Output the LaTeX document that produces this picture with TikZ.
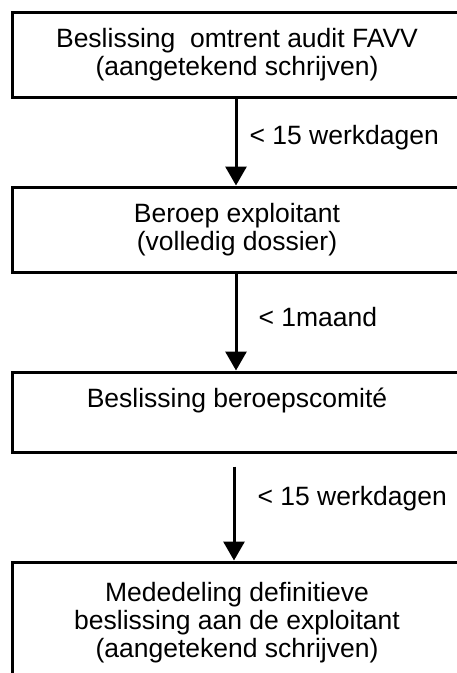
\documentclass[tikz,border=0pt]{standalone}
\usepackage{fontspec}
\setmainfont{Liberation Sans}
\usetikzlibrary{arrows.meta}
\begin{document}
\begin{tikzpicture}[x=1pt, y=1pt, font=\fontsize{26.5}{28}\selectfont,
  stap/.style={draw, line width=3pt, minimum width=450pt, align=center, inner sep=0pt},
  pijl/.style={line width=3pt, -{Triangle[length=19pt, width=21pt]}},
  termijn/.style={anchor=west, inner sep=0pt}]
  \useasboundingbox (0,0) rectangle (457,-673);
  \node[stap, minimum height=85pt] (beslissing) at (237,-54.5) {Beslissing\ \ omtrent audit FAVV\\(aangetekend schrijven)};
  \node[stap, minimum height=85pt] (beroep) at (237,-229.5) {Beroep exploitant\\(volledig dossier)};
  \node[stap, minimum height=80pt] (comite) at (237,-412) {Beslissing beroepscomité\\\mbox{}};
  \node[stap, minimum height=122pt] (mededeling) at (237,-623) {Mededeling definitieve\\beslissing aan de exploitant\\(aangetekend schrijven)};
  % pijlen met termijnen
  \draw[pijl] (beslissing.south -| 236,0) -- (beroep.north -| 236,0) node[termijn, pos=0.45, xshift=12pt] {< 15 werkdagen};
  \draw[pijl] (beroep.south -| 236,0) -- (comite.north -| 236,0) node[termijn, pos=0.45, xshift=21pt] {< 1maand};
  \draw[pijl, shorten <=13pt] (comite.south -| 234,0) -- (mededeling.north -| 234,0) node[termijn, pos=0.42, xshift=22pt] {< 15 werkdagen};
\end{tikzpicture}
\end{document}
